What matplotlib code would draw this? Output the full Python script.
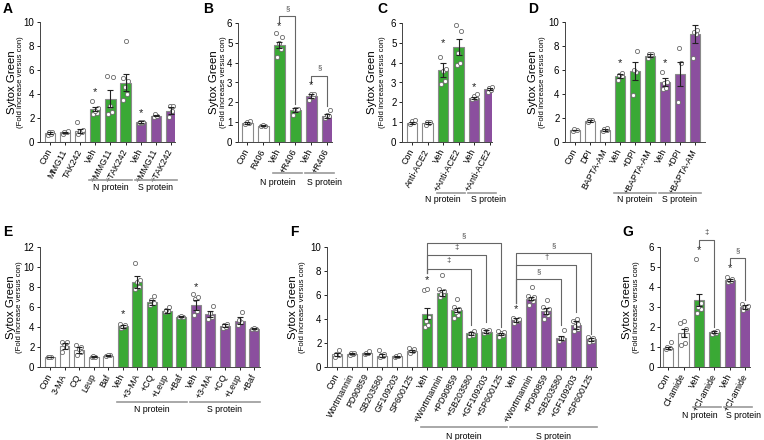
import numpy as np
import matplotlib.pyplot as plt

plt.rcParams['font.family'] = ['Liberation Sans', 'DejaVu Sans']

W, H = 764, 440
GREEN = '#3aa935'
PURPLE = '#8b4f9e'
EDGE = '#8a8a8a'

# ---------------- data ----------------
# A
a_labels = ['Con', 'MMG11', 'TAK242', 'Veh', '+MMG11', '+TAK242', 'Veh', '+MMG11', '+TAK242']
a_means = [0.75, 0.8, 0.9, 2.75, 3.6, 4.95, 1.65, 2.2, 2.6]
a_errs = [0.05, 0.05, 0.15, 0.15, 0.7, 0.7, 0.08, 0.05, 0.3]
a_pts = [[0.6, 0.7, 0.8, 0.85], [0.7, 0.8, 0.85, 0.9], [0.7, 0.8, 0.9, 1.0, 1.7],
         [2.3, 2.4, 2.6, 2.8, 3.4], [2.3, 2.5, 3.0, 5.4, 5.5], [3.5, 4.0, 4.6, 5.1, 5.3, 8.4],
         [1.55, 1.6, 1.7, 1.7], [2.1, 2.2, 2.3], [2.1, 2.6, 3.0, 3.0]]
a_stars = {3: 4.2, 6: 2.4}

# B
b_labels = ['Con', 'R406', 'Veh', '+R406', 'Veh', '+R406']
b_means = [0.95, 0.82, 4.9, 1.6, 2.3, 1.3]
b_errs = [0.05, 0.02, 0.15, 0.1, 0.1, 0.1]
b_pts = [[0.9, 0.95, 1.0, 1.05], [0.8, 0.82, 0.85], [4.3, 4.7, 5.0, 5.3, 5.5],
         [1.35, 1.6, 1.65, 1.65], [2.1, 2.25, 2.4, 2.4], [1.2, 1.3, 1.35, 1.6]]
b_stars = {2: 5.85, 4: 2.85}
b_brackets = [(2, 3, 6.35, 6.05, 1.9, '§'), (4, 5, 3.35, 2.95, 1.8, '§')]

# C
c_labels = ['Con', 'Anti-ACE2', 'Veh', '+Anti-ACE2', 'Veh', '+Anti-ACE2']
c_means = [0.95, 0.95, 3.65, 4.8, 2.2, 2.65]
c_errs = [0.05, 0.05, 0.35, 0.4, 0.05, 0.05]
c_pts = [[0.9, 1.0, 1.05, 1.1], [0.85, 0.95, 1.0, 1.0], [2.9, 3.1, 3.6, 3.7, 4.3],
         [3.9, 4.0, 4.5, 5.6, 5.9], [2.15, 2.2, 2.3, 2.4], [2.5, 2.6, 2.7, 2.75]]
c_stars = {2: 5.0, 4: 2.75}

# D
d_labels = ['Con', 'DPI', 'BAPTA-AM', 'Veh', '+DPI', '+BAPTA-AM', 'Veh', '+DPI', '+BAPTA-AM']
d_means = [1.0, 1.75, 1.0, 5.5, 5.9, 7.2, 5.0, 5.65, 9.0]
d_errs = [0.03, 0.05, 0.1, 0.15, 0.75, 0.15, 0.35, 1.0, 0.75]
d_pts = [[0.95, 1.0, 1.05], [1.7, 1.8, 1.85], [0.9, 1.0, 1.1, 1.2],
         [5.2, 5.5, 5.6, 5.75], [3.9, 5.8, 6.0, 7.6], [7.0, 7.2, 7.3, 7.35],
         [4.4, 4.5, 4.9, 5.0, 5.8], [3.3, 6.6, 7.8], [7.0, 9.0, 9.2, 9.3]]
d_stars = {3: 6.6, 6: 6.6}

# E
e_labels = ['Con', '3-MA', 'CQ', 'Leup', 'Baf', 'Veh', '+3-MA', '+CQ', '+Leup', '+Baf',
            'Veh', '+3-MA', '+CQ', '+Leup', '+Baf']
e_means = [1.0, 2.1, 1.7, 1.05, 1.15, 4.1, 8.5, 6.5, 5.65, 5.05, 6.25, 5.3, 4.15, 4.65, 3.85]
e_errs = [0.03, 0.3, 0.3, 0.05, 0.05, 0.15, 0.6, 0.25, 0.2, 0.05, 0.5, 0.3, 0.15, 0.35, 0.05]
e_pts = [[1.0, 1.05, 1.05], [1.5, 2.0, 2.3, 2.5, 2.5], [1.2, 1.5, 1.8, 2.0, 2.2],
         [1.0, 1.05, 1.1], [1.15, 1.2, 1.2], [3.9, 4.0, 4.1, 4.2, 4.3],
         [7.8, 8.0, 8.5, 8.7, 10.4], [6.2, 6.4, 6.7, 7.1], [5.5, 5.6, 5.7, 6.0],
         [5.0, 5.05, 5.1], [5.2, 5.6, 6.8, 7.0, 7.3], [4.8, 5.0, 5.4, 6.1],
         [3.9, 4.0, 4.2, 4.3], [4.2, 4.5, 4.7, 5.5], [3.8, 3.85, 3.9]]
e_stars = {5: 5.3, 10: 8.0}

# F
f_labels = ['Con', 'Wortmannin', 'PD90859', 'SB203580', 'GF109203', 'SP600125',
            'Veh', '+Wortmannin', '+PD90859', '+SB203580', '+GF109203', '+SP600125',
            'Veh', '+Wortmannin', '+PD90859', '+SB203580', '+GF109203', '+SP600125']
f_means = [1.05, 1.1, 1.15, 0.95, 0.9, 1.35, 4.45, 6.2, 4.75, 2.8, 2.95, 2.75,
           3.9, 5.7, 4.7, 2.4, 3.5, 2.3]
f_errs = [0.1, 0.05, 0.05, 0.1, 0.05, 0.1, 0.45, 0.25, 0.2, 0.1, 0.1, 0.1,
          0.15, 0.15, 0.25, 0.15, 0.3, 0.1]
f_pts = [[0.8, 1.0, 1.1, 1.4], [1.0, 1.1, 1.2, 1.2], [1.1, 1.15, 1.2, 1.3],
         [0.8, 0.9, 1.0, 1.1, 1.4], [0.8, 0.9, 0.9, 1.0], [1.2, 1.3, 1.4, 1.5, 1.6],
         [3.3, 3.5, 3.8, 4.2, 6.4, 6.5], [5.8, 6.0, 6.1, 6.3, 6.5, 7.7],
         [4.1, 4.3, 4.6, 4.8, 5.0, 5.7], [2.6, 2.7, 2.8, 3.0], [2.8, 2.9, 3.0, 3.1, 3.1],
         [2.5, 2.7, 2.8, 2.9, 3.0], [3.7, 3.8, 3.9, 4.0, 4.1],
         [5.2, 5.5, 5.7, 5.8, 5.9, 6.7], [4.0, 4.3, 4.5, 4.8, 5.0, 5.6],
         [2.2, 2.3, 2.4, 3.1], [3.0, 3.2, 3.4, 3.6, 3.8, 4.0], [2.1, 2.2, 2.3, 2.4, 2.5]]
f_stars = {6: 7.25, 12: 4.8}
f_brackets = [(6, 9, 8.2, 7.8, 3.5, '‡'), (6, 10, 9.3, 7.8, 3.75, '‡'), (6, 11, 10.3, 7.8, 3.3, '§'),
              (12, 15, 7.3, 5.3, 3.5, '§'), (12, 16, 8.5, 5.3, 4.6, '†'), (12, 17, 9.5, 5.3, 2.75, '§')]

# G
g_labels = ['Con', 'Cl-amide', 'Veh', '+Cl-amide', 'Veh', '+Cl-amide']
g_means = [0.95, 1.7, 3.35, 1.75, 4.35, 3.0]
g_errs = [0.05, 0.2, 0.3, 0.05, 0.07, 0.08]
g_pts = [[0.9, 0.95, 1.0, 1.25], [1.1, 1.2, 1.6, 1.9, 2.2, 2.3], [2.7, 2.9, 3.0, 3.2, 5.4],
         [1.65, 1.7, 1.75, 1.8], [4.25, 4.3, 4.35, 4.4, 4.5], [2.85, 2.95, 3.0, 3.05, 3.15]]
g_stars = {2: 5.85, 4: 4.95}
g_brackets = [(2, 3, 6.35, 6.05, 2.0, '‡'), (4, 5, 5.45, 5.15, 3.35, '§')]

JIT = [-0.14, 0.1, -0.04, 0.16, -0.2, 0.04]

fig = plt.figure(figsize=(W / 100, H / 100), dpi=100)


def panel(box, letter, lpos, labels, means, errs, pts, nctrl, ymax, ystep, xlim,
          stars, brackets, line_y, lab_y, yoff, lab_dx=(0, 0)):
    l, t, r, b = box
    ax = fig.add_axes([l / W, 1 - b / H, (r - l) / W, (b - t) / H])
    n = len(labels)
    ng = (n - nctrl) // 2
    cols = ['white'] * nctrl + [GREEN] * ng + [PURPLE] * ng
    x = np.arange(n)
    ax.bar(x, means, width=0.68, color=cols, edgecolor=EDGE, linewidth=0.8, zorder=1)
    for i, p in enumerate(pts):
        xs = [i + JIT[k % 6] for k in range(len(p))]
        ax.plot(xs, p, 'o', ms=3, mfc='white', mec='#6a6a6a', mew=0.6, zorder=3, clip_on=False)
    ax.errorbar(x, means, yerr=errs, fmt='none', ecolor='#222', elinewidth=0.8,
                capsize=2, capthick=0.8, zorder=4)
    for i, y in stars.items():
        ax.text(i, y, '*', ha='center', va='center', fontsize=8, color='#222')
    for x1, x2, y, y1, y2, s in brackets:
        ax.plot([x1, x1, x2, x2], [y1, y, y, y2], color='#666', lw=0.8, clip_on=False)
        ax.text((x1 + x2) / 2, y + ymax * 0.035, s, ha='center', va='bottom', fontsize=5.5, color='#444')
    ax.set_ylim(0, ymax)
    ax.set_xlim(*xlim)
    ax.set_yticks(np.arange(0, ymax + 0.01, ystep))
    ax.set_xticks(x)
    ax.set_xticklabels(labels, rotation=62, ha='right', va='center', rotation_mode='anchor')
    ax.tick_params(axis='y', labelsize=7, length=2.5, width=0.6, pad=1.5)
    ax.tick_params(axis='x', labelsize=6.4, length=2, width=0.6, pad=3.5)
    for sp in ['top', 'right']:
        ax.spines[sp].set_visible(False)
    for sp in ['left', 'bottom']:
        ax.spines[sp].set_linewidth(0.7)
        ax.spines[sp].set_color('#444')
    tr = ax.get_xaxis_transform()
    for k, name in enumerate(['N protein', 'S protein']):
        a0 = nctrl + k * ng
        a1 = a0 + ng - 1
        ax.plot([a0 - 0.4, a1 + 0.4], [line_y, line_y], color='#9a9a9a', lw=1.2,
                transform=tr, clip_on=False)
        ax.annotate(name, xy=((a0 + a1) / 2, lab_y), xycoords=tr, xytext=(lab_dx[k], 0),
                    textcoords='offset pixels', ha='center', va='center', fontsize=6.3)
    ax.annotate('Sytox Green', xy=(0, 0.5), xycoords='axes fraction', xytext=(-yoff[0], 0),
                textcoords='offset pixels', rotation=90, ha='center', va='center', fontsize=8.2)
    ax.annotate('(Fold increase versus con)', xy=(0, 0.5), xycoords='axes fraction',
                xytext=(-yoff[1], 0), textcoords='offset pixels', rotation=90,
                ha='center', va='center', fontsize=5.6)
    fig.text(lpos[0] / W, 1 - lpos[1] / H, letter, fontsize=10, fontweight='bold', va='top', ha='left')
    return ax


panel((40, 22, 175, 142), 'A', (3, 2), a_labels, a_means, a_errs, a_pts, 3, 10, 2,
      (-0.66, 8.27), a_stars, [], -0.317, -0.383, (28, 19))
panel((238, 23, 332, 142), 'B', (203, 2), b_labels, b_means, b_errs, b_pts, 2, 6, 1,
      (-0.58, 5.3), b_stars, b_brackets, -0.258, -0.342, (24, 15), (-9, 5))
panel((402, 23, 492, 142), 'C', (377, 2), c_labels, c_means, c_errs, c_pts, 2, 6, 1,
      (-0.66, 5.15), c_stars, [], -0.425, -0.483, (30, 19), (-8, 7))
panel((565, 22, 705, 142), 'D', (528, 2), d_labels, d_means, d_errs, d_pts, 3, 10, 2,
      (-0.67, 8.67), d_stars, [], -0.425, -0.483, (32, 22))
panel((40, 247, 260, 367), 'E', (3, 225), e_labels, e_means, e_errs, e_pts, 5, 12, 2,
      (-0.68, 14.4), e_stars, [], -0.29, -0.358, (29, 20))
panel((327, 247, 597, 367), 'F', (290, 225), f_labels, f_means, f_errs, f_pts, 6, 10, 2,
      (-0.67, 17.4), f_stars, f_brackets, -0.5, -0.575, (34, 25))
panel((660, 247, 750, 367), 'G', (622, 225), g_labels, g_means, g_errs, g_pts, 2, 6, 1,
      (-0.52, 5.3), g_stars, g_brackets, -0.333, -0.40, (33, 24), (-7, 6))

fig.savefig('out.png', dpi=100)
